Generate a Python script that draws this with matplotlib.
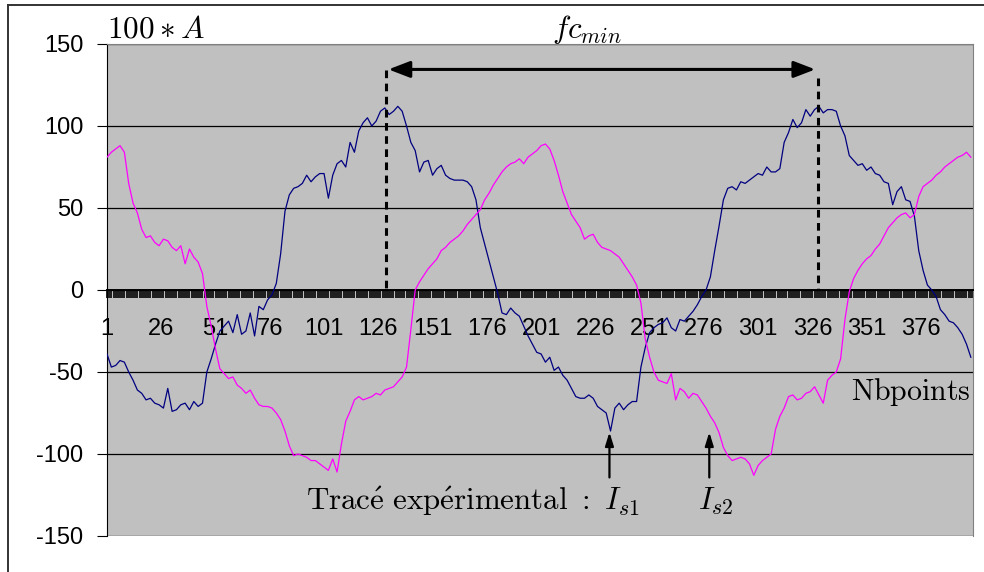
import numpy as np
import matplotlib
matplotlib.use('Agg')
import matplotlib.pyplot as plt
from matplotlib.lines import Line2D
from matplotlib.ticker import FixedLocator, MultipleLocator

plt.rcParams['mathtext.fontset'] = 'cm'
plt.rcParams['axes.unicode_minus'] = False
plt.rcParams['font.family'] = ['Liberation Sans', 'DejaVu Sans']

# one value read every 2 samples (1, 3, 5, ... 399)
points = np.arange(1, 400, 2)

# Is1 (navy)
is1 = [-39, -47, -46, -43, -44, -50, -55, -61, -63, -67,
       -66, -69, -70, -72, -60, -74, -73, -70, -69, -73,
       -68, -71, -69, -50, -42, -33, -25, -22, -19, -26,
       -15, -27, -25, -14, -28, -10, -12, -6, -3, 4,
       22, 48, 58, 62, 63, 65, 70, 66, 69, 71,
       71, 56, 70, 77, 79, 75, 90, 84, 97, 102,
       105, 100, 103, 109, 111, 107, 109, 112, 109, 100,
       90, 85, 72, 78, 79, 70, 74, 76, 70, 68,
       67, 67, 67, 66, 63, 55, 38, 28, 18, 8,
       -2, -14, -15, -11, -14, -16, -22, -28, -33, -38,
       -39, -44, -41, -49, -47, -52, -55, -60, -65, -66,
       -66, -64, -66, -71, -73, -75, -86, -72, -69, -73,
       -70, -68, -68, -47, -35, -26, -23, -21, -20, -17,
       -23, -25, -18, -19, -16, -13, -9, -4, 0, 8,
       24, 39, 55, 62, 63, 61, 66, 65, 67, 69,
       71, 70, 75, 72, 72, 74, 90, 96, 104, 99,
       102, 110, 106, 110, 112, 108, 110, 110, 109, 100,
       94, 82, 79, 76, 77, 73, 75, 71, 70, 66,
       65, 52, 60, 63, 55, 54, 45, 24, 12, 3,
       0, -4, -12, -15, -19, -20, -23, -27, -33, -41]

# Is2 (magenta)
is2 = [81, 84, 86, 88, 84, 65, 53, 47, 37, 32,
       33, 29, 27, 31, 30, 26, 24, 27, 16, 25,
       20, 17, 10, -10, -22, -36, -48, -51, -54, -53,
       -58, -60, -63, -61, -66, -70, -71, -71, -72, -75,
       -79, -86, -95, -101, -100, -101, -102, -104, -104, -106,
       -108, -110, -103, -111, -94, -80, -74, -67, -65, -67,
       -66, -65, -63, -64, -61, -60, -59, -56, -53, -47,
       -24, 0, 5, 9, 13, 16, 19, 24, 26, 29,
       31, 33, 36, 40, 43, 46, 49, 55, 59, 64,
       68, 72, 75, 77, 78, 80, 77, 81, 83, 85,
       88, 89, 86, 79, 70, 60, 53, 46, 42, 38,
       31, 33, 34, 29, 26, 25, 24, 22, 20, 16,
       12, 8, 3, -8, -30, -41, -50, -55, -56, -57,
       -51, -67, -60, -62, -66, -63, -64, -68, -72, -77,
       -81, -87, -96, -101, -104, -103, -102, -103, -106, -113,
       -107, -104, -102, -100, -85, -77, -72, -65, -64, -67,
       -66, -63, -62, -59, -64, -69, -55, -52, -50, -42,
       -18, -1, 7, 12, 16, 19, 21, 25, 28, 33,
       38, 41, 44, 46, 47, 44, 46, 57, 63, 65,
       67, 70, 72, 75, 77, 79, 81, 82, 84, 81]

xlabels = list(range(1, 400, 25))
yticks = [-150, -100, -50, 0, 50, 100, 150]

fig = plt.figure(figsize=(9.84, 5.72), dpi=100)
ax = fig.add_axes([107 / 984, 1 - 536 / 572, 866 / 984, 492 / 572])
ax.set_facecolor('#c0c0c0')

ax.plot(points, is1, color='#000080', lw=0.9, zorder=3)
ax.plot(points, is2, color='#ff00ff', lw=0.9, zorder=3)

ax.set_xlim(1, 400)
ax.set_ylim(-150, 150)
ax.set_yticks(yticks)
ax.yaxis.grid(True, color='black', lw=0.9)
ax.set_axisbelow(True)

# x axis at zero with a tick at every point
ax.spines['bottom'].set_position(('data', 0))
ax.spines['bottom'].set_linewidth(1.4)
ax.xaxis.set_major_locator(FixedLocator(xlabels))
ax.xaxis.set_minor_locator(MultipleLocator(1))
ax.tick_params(axis='x', which='both', direction='out', length=6, width=1.2, color='black')
ax.tick_params(axis='x', which='major', pad=14, labelsize=17)
ax.tick_params(axis='y', direction='out', length=7, width=0.8, pad=10, labelsize=17)
for s in ['top', 'right']:
    ax.spines[s].set_color('#808080')
ax.spines['left'].set_color('black')

# annotations
ax.annotate('', xy=(129.4, 134.5), xytext=(328.6, 134.5),
            arrowprops=dict(arrowstyle='<|-|>,head_length=1.3,head_width=0.5', color='black', lw=2.2))
ax.plot([129.4, 129.4], [134, 0], color='black', lw=2.2, ls=(0, (2.5, 1.8)), zorder=4)
ax.plot([328.6, 328.6], [129, 0], color='black', lw=2.2, ls=(0, (2.5, 1.8)), zorder=4)

ax.annotate('', xy=(232.5, -85), xytext=(232.5, -116),
            arrowprops=dict(arrowstyle='-|>,head_length=0.8,head_width=0.25', color='black', lw=1.6))
ax.annotate('', xy=(278.5, -85), xytext=(278.5, -116),
            arrowprops=dict(arrowstyle='-|>,head_length=0.8,head_width=0.25', color='black', lw=1.6))

ax.text(246.5, -134, r'$\mathrm{Trac\acute{e}\ exp\acute{e}rimental}\ :\ I_{s1}$',
        fontsize=22.3, ha='right', va='baseline')
ax.text(273.5, -134, r'$I_{s2}$', fontsize=22.3, ha='left', va='baseline')
ax.text(399, -67, r'$\mathrm{Nbpoints}$', fontsize=21.5, ha='right', va='baseline')

fig.text(107 / 984, 1 - 38 / 572, r'$100*A$', fontsize=22.5, ha='left', va='baseline')
fig.text(587 / 984, 1 - 38 / 572, r'$fc_{min}$', fontsize=22.5, ha='center', va='baseline')

# outer frame
fig.add_artist(Line2D([8 / 984, 8 / 984], [0, 1 - 5 / 572], transform=fig.transFigure, color='#333333', lw=1.4))
fig.add_artist(Line2D([8 / 984, 1], [1 - 5 / 572, 1 - 5 / 572], transform=fig.transFigure, color='#333333', lw=1.4))

fig.savefig('out.png', dpi=100)
